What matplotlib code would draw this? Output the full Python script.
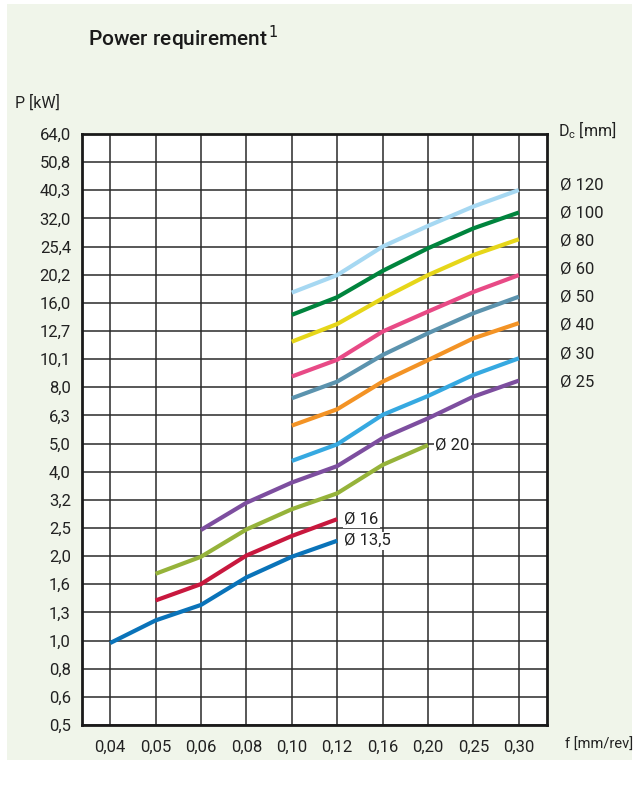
import matplotlib.pyplot as plt
from matplotlib.patches import Rectangle

plt.rcParams['font.family'] = ['Roboto', 'DejaVu Sans']

# feed rates (categorical, evenly spaced on the chart)
feeds = ["0,04", "0,05", "0,06", "0,08", "0,10", "0,12", "0,16", "0,20", "0,25", "0,30"]

# power axis labels (log scale, step 2^(1/3))
p_labels = ["0,5", "0,6", "0,8", "1,0", "1,3", "1,6", "2,0", "2,5", "3,2", "4,0", "5,0",
            "6,3", "8,0", "10,1", "12,7", "16,0", "20,2", "25,4", "32,0", "40,3", "50,8", "64,0"]

# power curves per cutter diameter (kW), starting at the given feed index
d13_5 = [0.98, 1.18, 1.34, 1.68, 1.99, 2.27]
d16 = [1.39, 1.59, 2.01, 2.36, 2.71]
d20 = [1.73, 1.99, 2.49, 2.94, 3.35, 4.23, 4.98]
d25 = [2.48, 3.10, 3.66, 4.19, 5.27, 6.20, 7.41, 8.45]
d30 = [4.37, 5.01, 6.38, 7.45, 8.86, 10.15]
d40 = [5.84, 6.68, 8.38, 10.0, 11.96, 13.55]
d50 = [7.31, 8.38, 10.43, 12.47, 14.7, 16.83]
d60 = [8.74, 10.03, 12.64, 14.9, 17.5, 20.1]
d80 = [11.63, 13.45, 16.6, 20.1, 23.7, 26.97]
d100 = [14.5, 16.76, 20.8, 25.05, 29.5, 33.6]
d120 = [17.4, 20.1, 25.4, 30.1, 35.3, 40.4]

curves = [
    ("Ø 13,5", 0, d13_5, "#0a73b9"),
    ("Ø 16", 1, d16, "#c8183e"),
    ("Ø 20", 1, d20, "#96b33a"),
    ("Ø 25", 2, d25, "#7d4e9f"),
    ("Ø 30", 4, d30, "#36a9e1"),
    ("Ø 40", 4, d40, "#f39325"),
    ("Ø 50", 4, d50, "#5b93ae"),
    ("Ø 60", 4, d60, "#e84a86"),
    ("Ø 80", 4, d80, "#e6d619"),
    ("Ø 100", 4, d100, "#00843d"),
    ("Ø 120", 4, d120, "#a6d8f2"),
]

fig = plt.figure(figsize=(6.36, 7.91), dpi=100, facecolor="white")
fig.patches.append(Rectangle((7 / 636, 1 - 760 / 791), 625 / 636, 756 / 791,
                             transform=fig.transFigure, facecolor="#f0f5ea",
                             edgecolor="none", zorder=-10))

ax = fig.add_axes([82 / 636, 1 - 725 / 791, 465 / 636, 591 / 791])
ax.set_facecolor("white")
ax.set_yscale("log", base=2)

p_ticks = [0.5 * 2 ** (k / 3) for k in range(len(p_labels))]
ax.set_ylim(p_ticks[0], p_ticks[-1])
ax.set_xlim(-0.62, len(feeds) - 0.38)
ax.set_yticks(p_ticks)
ax.set_yticklabels(p_labels)
ax.minorticks_off()
ax.set_xticks(range(len(feeds)))
ax.set_xticklabels(feeds)
ax.tick_params(length=0, labelsize=12, colors="#222222", pad=8)
ax.tick_params(axis="x", pad=11)
ax.grid(True, color="#2a2a2a", linewidth=1.1)
ax.set_axisbelow(True)
for s in ax.spines.values():
    s.set_linewidth(2)
    s.set_color("#1a1a1a")

for name, start, vals, color in curves:
    xs = list(range(start, start + len(vals)))
    ax.plot(xs, vals, color=color, linewidth=3, solid_capstyle="butt", zorder=3)

# labels inside the plot
for name in ["Ø 20", "Ø 16", "Ø 13,5"]:
    for n, start, vals, color in curves:
        if n == name:
            ax.annotate(name, (start + len(vals) - 1, vals[-1]), xytext=(5, 0),
                        textcoords="offset points", va="center", ha="left",
                        fontsize=12, color="#222222", zorder=4,
                        bbox=dict(facecolor="white", edgecolor="none", pad=1))

# labels on the right
right = ["Ø 120", "Ø 100", "Ø 80", "Ø 60", "Ø 50", "Ø 40", "Ø 30", "Ø 25"]
for i, name in enumerate(right):
    ax.text(1.028, (19.2 - i) / 21, name, transform=ax.transAxes,
            ha="left", va="center", fontsize=12, color="#222222")

fig.text(88 / 636, 1 - 38 / 791, "Power requirement$^{\\,1}$", fontsize=15,
         fontweight="medium", ha="left", va="center", color="#1a1a1a")
fig.text(15 / 636, 1 - 103 / 791, "P [kW]", fontsize=11.5, ha="left", va="center",
         color="#222222")
fig.text(558 / 636, 1 - 130 / 791, "D$_\\mathregular{c}$ [mm]", fontsize=11.5,
         ha="left", va="center", color="#222222")
fig.text(565 / 636, 1 - 745 / 791, "f [mm/rev]", fontsize=10.5, ha="left",
         va="center", color="#222222")

fig.savefig("out.png", dpi=100, facecolor="white")
